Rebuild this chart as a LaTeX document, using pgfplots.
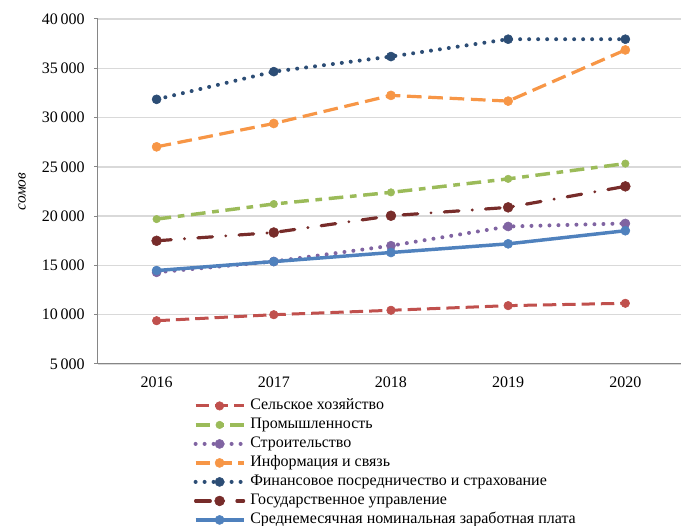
\documentclass[border=0pt]{standalone}
\usepackage{pgfplots}
\pgfplotsset{compat=1.18}
\usepackage{fontspec}
\setmainfont{Liberation Serif}

\definecolor{agri}{HTML}{C0504D}
\definecolor{indus}{HTML}{9BBB59}
\definecolor{constr}{HTML}{8064A2}
\definecolor{info}{HTML}{F79646}
\definecolor{fin}{HTML}{2C4D75}
\definecolor{gov}{HTML}{772C2A}
\definecolor{avg}{HTML}{4F81BD}
\definecolor{axgray}{HTML}{868686}
\definecolor{gridgray}{HTML}{D9D9D9}

\begin{document}
\begin{tikzpicture}
\begin{axis}[
  scale only axis,
  width=437.25pt, height=258.75pt,
  xmin=2015.5, xmax=2020.475,
  ymin=5000, ymax=40000,
  ytick={5000,10000,...,40000},
  xtick={2016,...,2020},
  xticklabels={2016,2017,2018,2019,2020},
  major x tick style={draw=none},
  extra x ticks={2015.5,2016.5,2017.5,2018.5,2019.5},
  extra x tick labels={},
  extra x tick style={major tick length=4pt, tick style={axgray, line width=0.75pt}, grid=none},
  axis x line*=bottom, axis y line*=left,
  x axis line style={-, axgray, line width=0.75pt},
  y axis line style={-, axgray, line width=0.75pt},
  tick align=outside,
  major tick length=3pt,
  tick style={axgray, line width=0.75pt},
  ymajorgrids, major grid style={gridgray, line width=1pt},
  scaled y ticks=false,
  tick label style={font=\fontsize{12}{14}\selectfont},
  yticklabel style={xshift=-3.5pt, /pgf/number format/.cd, fixed, 1000 sep={\,}, assume math mode=true},
  xticklabel style={yshift=-3pt},
  ylabel={\itshape сомов},
  ylabel style={at={(axis description cs:0,0.5)}, anchor=center, yshift=57pt, font=\fontsize{11.5}{13}\selectfont},
  legend image code/.code={\draw[mark repeat=2,mark phase=2,#1] plot coordinates {(0pt,0pt) (18pt,0pt) (36pt,0pt)};},
  legend style={at={(rel axis cs:0,0)}, anchor=north west, xshift=71.5pt, yshift=-25pt,
    draw=none, fill=none, inner xsep=0pt, inner ysep=0pt, row sep=1.75pt,
    font=\fontsize{12}{14}\selectfont,
    nodes={inner sep=1pt, text height=8pt, text depth=2.5pt},
    /tikz/column 2/.style={nodes={inner xsep=3.5pt}}},
  legend cell align=left,
  mark options={solid, line width=0.4pt},
  line join=round,
]
\addplot[agri, line width=2.25pt, dash pattern=on 10pt off 4.5pt, mark=*, mark size=3.2pt]
  coordinates {(2016,9390) (2017,10000) (2018,10450) (2019,10920) (2020,11160)};
\addplot[indus, line width=2.6pt, dash pattern=on 11pt off 5pt on 5pt off 5pt, mark=*, mark size=2.8pt]
  coordinates {(2016,19700) (2017,21230) (2018,22410) (2019,23780) (2020,25330)};
\addplot[constr, line width=3pt, line cap=round, dash pattern=on 0pt off 6.75pt, mark=*, mark size=3.4pt]
  coordinates {(2016,14300) (2017,15400) (2018,17000) (2019,18950) (2020,19260)};
\addplot[info, line width=2.4pt, dash pattern=on 11pt off 5pt, mark=*, mark size=3.4pt]
  coordinates {(2016,27030) (2017,29400) (2018,32250) (2019,31670) (2020,36860)};
\addplot[fin, line width=3pt, line cap=round, dash pattern=on 0pt off 6.75pt, mark=*, mark size=3.4pt]
  coordinates {(2016,31850) (2017,34660) (2018,36190) (2019,37950) (2020,37950)};
\addplot[gov, line width=2.4pt, line cap=round, dash pattern=on 11pt off 10pt on 0pt off 10pt, mark=*, mark size=3.7pt]
  coordinates {(2016,17500) (2017,18340) (2018,20040) (2019,20890) (2020,23020)};
\addplot[avg, line width=2.6pt, mark=*, mark size=3.4pt]
  coordinates {(2016,14480) (2017,15390) (2018,16310) (2019,17190) (2020,18520)};
\legend{Сельское хозяйство, Промышленность, Строительство, Информация и связь,
  Финансовое посредничество и страхование, Государственное управление,
  Среднемесячная номинальная заработная плата}
\coordinate (sw) at (rel axis cs:0,0);
\coordinate (ne) at (rel axis cs:1,1);
\end{axis}
\pgfresetboundingbox
\path ([xshift=-73.5pt,yshift=-121.5pt]sw) rectangle ([yshift=14.25pt]ne);
\end{tikzpicture}
\end{document}
